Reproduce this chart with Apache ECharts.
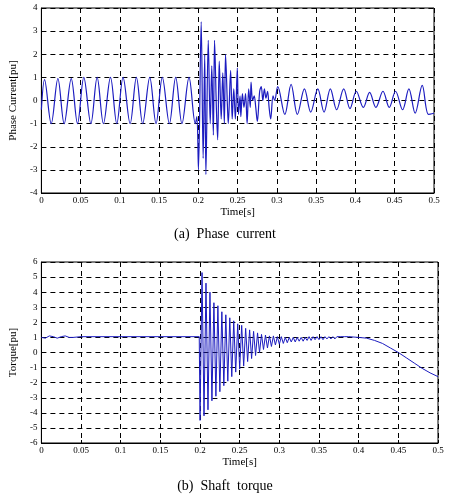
<!DOCTYPE html>
<html><head><meta charset="utf-8">
<script src="https://cdn.jsdelivr.net/npm/echarts@6/dist/echarts.min.js"></script>
<style>html,body{margin:0;padding:0;background:#fff}#c{width:450px;height:500px}</style>
</head><body><div id="c"></div>
<script>
const xTicks = [0,0.05,0.1,0.15,0.2,0.25,0.3,0.35,0.4,0.45,0.5];
const currentT = [0,0.004,0.0125,0.021,0.029,0.038,0.046,0.054,0.063,0.071,0.079,0.088,0.096,0.104,0.113,0.121,0.129,0.138,0.146,0.154,0.163,0.171,0.179,0.188,0.196,0.198,0.200,0.2035,0.206,0.208,0.2095,0.2125,0.215,0.217,0.219,0.2205,0.223,0.2245,0.2265,0.229,0.231,0.233,0.2345,0.237,0.238,0.241,0.243,0.245,0.247,0.2495,0.251,0.253,0.254,0.256,0.258,0.260,0.262,0.264,0.266,0.267,0.269,0.271,0.273,0.275,0.278,0.280,0.282,0.284,0.286,0.288,0.290,0.292,0.295,0.297,0.301,0.310,0.318,0.326,0.335,0.343,0.352,0.360,0.368,0.376,0.385,0.393,0.401,0.410,0.418,0.426,0.435,0.443,0.451,0.460,0.468,0.476,0.485,0.493,0.5];
const currentV = [-0.4,0.9,-1,0.95,-1,0.95,-1,1,-1,1,-1,1,-1,1,-1,1,-1,1,-1,1,-1,1,-1,1,-1,-0.7,-3.0,3.4,-2.5,2.0,-3.2,2.6,-1.0,1.5,-1.5,2.6,-0.5,-1.7,1.7,-0.8,1.2,-1.0,2.0,-0.3,-1.0,1.3,-0.8,0.5,-0.8,1.4,-0.6,0.2,-0.7,0.3,-0.3,0.3,-1.0,0.5,-0.3,0.8,0.0,0.2,-0.3,-0.9,0.4,0.6,0.0,0.5,0.1,0.4,-0.3,-0.8,0.2,0.0,0.6,-0.6,0.7,-0.6,0.5,-0.5,0.5,-0.5,0.5,-0.4,0.5,-0.35,0.4,-0.3,0.35,-0.3,0.4,-0.3,0.4,-0.4,0.5,-0.55,0.65,-0.6,-0.55];
const torqueT = [0,0.005,0.01,0.015,0.02,0.025,0.03,0.035,0.04,0.05,0.199,
0.200,0.2025,0.205,0.2075,0.210,0.2125,0.215,0.2175,0.220,0.2225,0.225,0.2275,0.230,0.2325,0.235,0.2375,0.240,0.2425,0.245,0.2475,0.250,0.2525,0.255,0.2575,0.260,0.2625,0.265,0.2675,0.270,0.2725,0.275,0.2775,0.280,0.2825,0.285,0.2875,0.290,0.2925,0.295,0.2975,0.300,0.3025,0.305,0.3075,0.310,0.3125,0.315,0.3175,0.320,0.3225,0.325,0.3275,0.330,0.3325,0.335,0.3375,0.340,0.3425,0.345,0.3475,0.350,0.3525,0.355,0.3575,0.360,0.3625,0.365,0.3675,0.370,0.3725,0.375,0.3775,0.380,0.3825,0.385,0.3875,0.390,
0.40,0.41,0.42,0.43,0.44,0.45,0.46,0.47,0.48,0.49,0.5];
const torqueV = [1.0,0.95,1.1,1.05,0.95,1.05,1.1,1.0,1.0,1.05,1.05,
-4.5,5.3,-4.2,4.6,-3.8,4.0,-3.2,3.3,-2.9,3.1,-2.6,2.7,-2.2,2.5,-1.9,2.3,-1.6,2.1,-1.3,1.9,-1.1,1.8,-0.9,1.6,-0.6,1.5,-0.4,1.4,-0.2,1.3,0.0,1.2,0.2,1.15,0.3,1.1,0.4,1.1,0.5,1.05,0.55,1.05,0.6,1.0,0.65,1.0,0.7,1.0,0.7,1.0,0.75,1.0,0.75,1.0,0.8,1.05,0.8,1.05,0.85,1.05,0.85,1.05,0.85,1.05,0.9,1.05,0.9,1.05,0.9,1.05,0.95,1.05,0.95,1.05,0.95,1.05,0.97,
1.0,0.95,0.8,0.6,0.3,0.0,-0.35,-0.7,-1.05,-1.35,-1.6];

const F = 'Liberation Serif';
function pairs(t,v){return t.map((x,i)=>[x,v[i]]);}
function xAx(gi){return {type:'value',gridIndex:gi,min:0,max:0.5,interval:0.05,name:'Time[s]',nameLocation:'middle',nameGap:14,
 nameTextStyle:{fontFamily:F,fontSize:11,color:'#000'},
 axisLine:{onZero:false,lineStyle:{color:'#000'}},axisTick:{inside:true,length:3,lineStyle:{color:'#000'}},
 axisLabel:{fontFamily:F,fontSize:9,color:'#000',margin:3,formatter:v=>String(+v.toFixed(2))},
 splitLine:{show:true,lineStyle:{color:'#000',type:[5,4],width:1}}};}
function yAx(gi,mn,mx,name){return {type:'value',gridIndex:gi,min:mn,max:mx,interval:1,name:name,nameLocation:'middle',nameGap:18,
 nameTextStyle:{fontFamily:F,fontSize:11,color:'#000'},
 axisLine:{show:true,onZero:false,lineStyle:{color:'#000'}},axisTick:{inside:true,length:3,lineStyle:{color:'#000'}},
 axisLabel:{fontFamily:F,fontSize:9,color:'#000',margin:4},
 splitLine:{show:true,lineStyle:{color:'#000',type:[5,4],width:1}}};}
const chart = echarts.init(document.getElementById('c'));
chart.setOption({
 animation:false,
 title:[{text:'(a)  Phase  current',left:'center',top:222,textStyle:{fontFamily:F,fontSize:14,fontWeight:'normal',color:'#000'}},
        {text:'(b)  Shaft  torque',left:'center',top:474,textStyle:{fontFamily:F,fontSize:14,fontWeight:'normal',color:'#000'}}],
 grid:[{left:40,right:16,top:8,height:185,show:true,borderColor:'#000',backgroundColor:'#fff'},
       {left:36,right:12,top:262,height:181,show:true,borderColor:'#000',backgroundColor:'#fff'}],
 xAxis:[xAx(0),xAx(1)],
 yAxis:[yAx(0,-4,4,'Phase Current[pu]'),yAx(1,-6,6,'Torque[pu]')],
 series:[
  {type:'line',xAxisIndex:0,yAxisIndex:0,data:pairs(currentT,currentV),smooth:0.35,showSymbol:false,lineStyle:{color:'#1c1cc0',width:1.2}},
  {type:'line',xAxisIndex:1,yAxisIndex:1,data:pairs(torqueT,torqueV),showSymbol:false,lineStyle:{color:'#1c1cc0',width:1}}
 ]
});
</script></body></html>
